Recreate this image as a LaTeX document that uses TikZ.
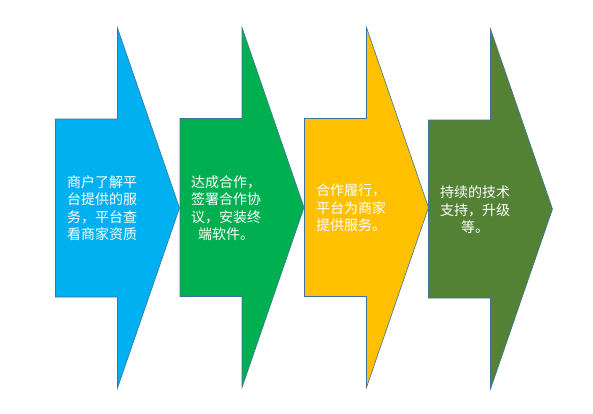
\documentclass[tikz,border=0pt]{standalone}
\usepackage{xcolor}
\usepackage{fontspec}
\newfontfamily\cjk{Noto Sans CJK SC}
\definecolor{skyblue}{HTML}{00B0F0}
\definecolor{brightgreen}{HTML}{00B050}
\definecolor{amber}{HTML}{FFC000}
\definecolor{olive}{HTML}{548235}
\definecolor{edgeblue}{HTML}{41719C}

\begin{document}
\begin{tikzpicture}[x=1pt,y=-1pt,
    arrowshape/.style={draw=edgeblue, line width=0.6pt, line join=miter},
    steptext/.style={text=white, align=center, font=\cjk\fontsize{14}{17.5}\selectfont}]
    \useasboundingbox (0,0) rectangle (593,413);
    \fill[white] (0,0) rectangle (593,413);
    \filldraw[arrowshape, fill=skyblue] (55.5,119) -- ++(62,0) -- ++(0,-91) -- ++(62,180)
      -- ++(-62,180) -- ++(0,-91) -- ++(-62,0) -- cycle;
    \filldraw[arrowshape, fill=brightgreen] (180,118.5) -- ++(62,0) -- ++(0,-91) -- ++(62,180)
      -- ++(-62,180) -- ++(0,-91) -- ++(-62,0) -- cycle;
    \filldraw[arrowshape, fill=amber] (304.5,118.5) -- ++(62,0) -- ++(0,-91) -- ++(62,180)
      -- ++(-62,180) -- ++(0,-91) -- ++(-62,0) -- cycle;
    \filldraw[arrowshape, fill=olive] (428.5,120) -- ++(62,0) -- ++(0,-91) -- ++(62,180)
      -- ++(-62,180) -- ++(0,-91) -- ++(-62,0) -- cycle;
    \node [steptext] (merchant) at (102,208) {商户了解平\\台提供的服\\务，平台查\\看商家资质};
    \node [steptext] (contract) at (226,208) {达成合作，\\签署合作协\\议，安装终\\端软件。};
    \node [steptext] (service) at (351,208) {合作履行，\\平台为商家\\提供服务。};
    \node [steptext] (support) at (475,210) {持续的技术\\支持，升级\\等。};
\end{tikzpicture}
\end{document}
